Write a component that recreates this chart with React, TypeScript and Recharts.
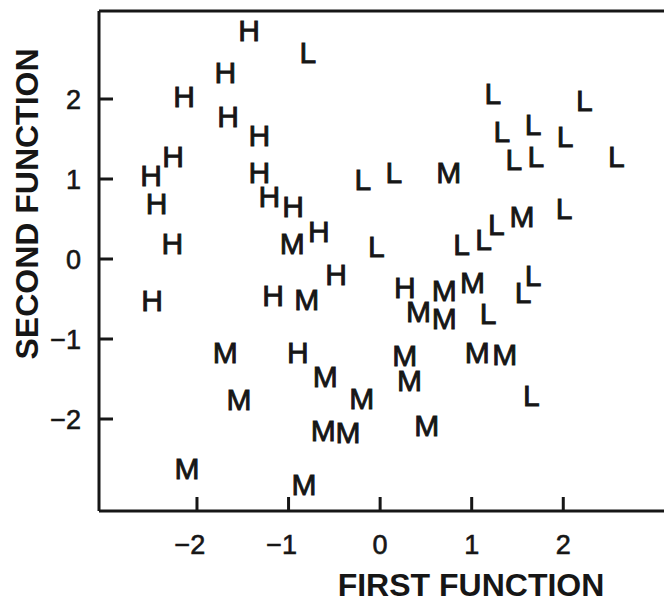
import { ScatterChart, Scatter, XAxis, YAxis, ReferenceLine } from "recharts";

// discriminant scores
const highGroup = [
  { x: -1.43, y: 2.86 }, { x: -1.69, y: 2.33 }, { x: -2.14, y: 2.03 }, { x: -1.66, y: 1.78 },
  { x: -1.32, y: 1.55 }, { x: -2.26, y: 1.29 }, { x: -2.5, y: 1.05 }, { x: -1.32, y: 1.09 },
  { x: -2.44, y: 0.7 }, { x: -1.21, y: 0.79 }, { x: -0.95, y: 0.66 }, { x: -0.67, y: 0.35 },
  { x: -2.27, y: 0.2 }, { x: -0.48, y: -0.19 }, { x: 0.27, y: -0.35 }, { x: -2.49, y: -0.51 },
  { x: -1.17, y: -0.45 }, { x: -0.9, y: -1.16 },
];

const mediumGroup = [
  { x: -0.96, y: 0.2 }, { x: 0.75, y: 1.09 }, { x: 1.55, y: 0.53 }, { x: 0.7, y: -0.39 },
  { x: 1.01, y: -0.29 }, { x: 0.42, y: -0.65 }, { x: 0.7, y: -0.74 }, { x: 0.27, y: -1.2 },
  { x: 1.06, y: -1.16 }, { x: 1.36, y: -1.19 }, { x: 0.32, y: -1.51 }, { x: 0.51, y: -2.08 },
  { x: -0.8, y: -0.5 }, { x: -1.69, y: -1.17 }, { x: -0.6, y: -1.46 }, { x: -1.54, y: -1.75 },
  { x: -0.2, y: -1.74 }, { x: -0.62, y: -2.14 }, { x: -0.35, y: -2.17 }, { x: -2.11, y: -2.61 },
  { x: -0.83, y: -2.81 },
];

const lowGroup = [
  { x: -0.79, y: 2.59 }, { x: -0.19, y: 1.0 }, { x: -0.04, y: 0.16 }, { x: 0.15, y: 1.09 },
  { x: 1.23, y: 2.07 }, { x: 2.23, y: 1.99 }, { x: 1.33, y: 1.6 }, { x: 1.67, y: 1.69 },
  { x: 2.02, y: 1.54 }, { x: 1.46, y: 1.25 }, { x: 1.7, y: 1.28 }, { x: 2.58, y: 1.29 },
  { x: 2.01, y: 0.64 }, { x: 1.27, y: 0.44 }, { x: 1.13, y: 0.25 }, { x: 0.89, y: 0.19 },
  { x: 1.67, y: -0.2 }, { x: 1.56, y: -0.42 }, { x: 1.18, y: -0.68 }, { x: 1.65, y: -1.7 },
];

const xTicks = [-2, -1, 0, 1, 2];
const yTicks = [-2, -1, 0, 1, 2];
const xDomain = [-3.07, 3.1];
const yDomain = [-3.15, 3.1];

const FONT = "'Liberation Sans', Arial, Helvetica, sans-serif";
const INK = "#161616";
const PLOT_LEFT = 99;
const PLOT_BOTTOM = 511;
const TICK_LEN = 14;

const fmt = (v: number) => (v < 0 ? `\u2212${Math.abs(v)}` : `${v}`);

function letterShape(letter: string) {
  return (props: any) => (
    <text x={props.cx} y={props.cy} dy="0.36em" textAnchor="middle"
      fontFamily={FONT} fontSize={30} fill={INK} stroke={INK} strokeWidth={0.9}>
      {letter}
    </text>
  );
}

function XTick(props: any) {
  const { x, payload } = props;
  const v = payload.value as number;
  return (
    <g>
      <line x1={x} x2={x} y1={PLOT_BOTTOM} y2={PLOT_BOTTOM - TICK_LEN} stroke={INK} strokeWidth={3} />
      <text x={x} y={554} dx={v < 0 ? -7 : 0} textAnchor="middle" fontFamily={FONT}
        fontSize={27} fill={INK} stroke={INK} strokeWidth={0.6}>{fmt(v)}</text>
    </g>
  );
}

function YTick(props: any) {
  const { y, payload } = props;
  const v = payload.value as number;
  return (
    <g>
      <line x1={PLOT_LEFT} x2={PLOT_LEFT + TICK_LEN} y1={y} y2={y} stroke={INK} strokeWidth={3} />
      <text x={81} y={y} dy="0.36em" textAnchor="end" fontFamily={FONT}
        fontSize={27} fill={INK} stroke={INK} strokeWidth={0.6}>{fmt(v)}</text>
    </g>
  );
}

export default function App() {
  return (
    <div style={{ position: "absolute", left: 0, top: 0, background: "#fff" }}>
      <ScatterChart width={664} height={602} margin={{ top: 11, right: 0, bottom: 0, left: 0 }}>
        <XAxis type="number" dataKey="x" domain={xDomain} ticks={xTicks} height={91}
          axisLine={{ stroke: INK, strokeWidth: 3 }} tickLine={false} tick={<XTick />}
          label={{
            content: () => (
              <text x={471} y={596} textAnchor="middle" fontFamily={FONT} fontSize={32}
                fontWeight="bold" fill={INK}>FIRST FUNCTION</text>
            ),
          }} />
        <YAxis type="number" dataKey="y" domain={yDomain} ticks={yTicks} width={PLOT_LEFT}
          axisLine={{ stroke: INK, strokeWidth: 3 }} tickLine={false} tick={<YTick />}
          label={{
            content: () => (
              <text x={26} y={204} textAnchor="middle" dy="0.36em" transform="rotate(-90 26 204)"
                fontFamily={FONT} fontSize={32} fontWeight="bold" fill={INK}>SECOND FUNCTION</text>
            ),
          }} />
        <ReferenceLine y={yDomain[1]} stroke={INK} strokeWidth={3} />
        <Scatter data={highGroup} shape={letterShape("H")} isAnimationActive={false} />
        <Scatter data={mediumGroup} shape={letterShape("M")} isAnimationActive={false} />
        <Scatter data={lowGroup} shape={letterShape("L")} isAnimationActive={false} />
      </ScatterChart>
    </div>
  );
}
